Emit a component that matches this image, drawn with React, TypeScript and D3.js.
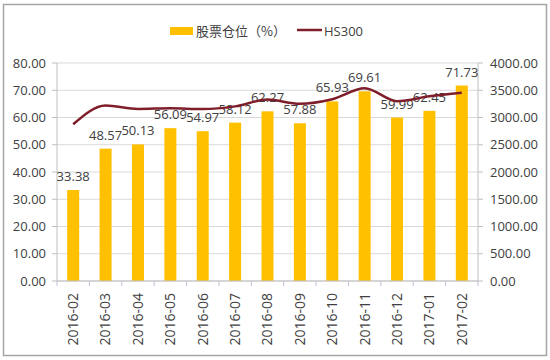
import React from "react";
import * as d3 from "d3";

const categories = ["2016-02","2016-03","2016-04","2016-05","2016-06","2016-07","2016-08","2016-09","2016-10","2016-11","2016-12","2017-01","2017-02"];
const positionValues = [33.38,48.57,50.13,56.09,54.97,58.12,62.27,57.88,65.93,69.61,59.99,62.45,71.73];
const hs300Values = [2877,3218,3157,3170,3154,3204,3328,3253,3336,3538,3300,3388,3453];
const leftTicks = [0,10,20,30,40,50,60,70,80];
const rightTicks = [0,500,1000,1500,2000,2500,3000,3500,4000];
const seriesNames = ["股票仓位（%）", "HS300"];

const W = 550, H = 360;
const plot = { left: 57, right: 478, top: 63, bottom: 281 };
const FONT = "'Open Sans', 'Noto Sans', sans-serif";
const CJK = "'Noto Sans CJK SC', sans-serif";
const BAR = "#FFC000";
const LINE = "#7E1E2A";
const TEXT = "#404040";

export default function App() {
  const x = d3.scaleBand<string>().domain(categories).range([plot.left, plot.right]).padding(0);
  const yL = d3.scaleLinear().domain([0, 80]).range([plot.bottom, plot.top]);
  const yR = d3.scaleLinear().domain([0, 4000]).range([plot.bottom, plot.top]);
  const bw = 12;
  const line = d3.line<number>()
    .x((_, i) => (x(categories[i]) as number) + x.bandwidth() / 2)
    .y((d) => yR(d))
    .curve(d3.curveMonotoneX);

  const boundaries = categories.map((c) => x(c) as number).concat([plot.right]);

  return (
    <svg width={W} height={H} style={{ position: "absolute", left: 0, top: 0, background: "#fff" }}>
      <rect x={3.5} y={4.5} width={543} height={351} fill="#fff" stroke="#a6a6a6" strokeWidth={1.5} />
      {/* gridlines */}
      {leftTicks.map((t) => (
        <line key={"g" + t} x1={plot.left} x2={plot.right} y1={yL(t)} y2={yL(t)} stroke="#d9d9d9" strokeWidth={1} />
      ))}
      {/* left axis */}
      <line x1={plot.left} x2={plot.left} y1={plot.top} y2={plot.bottom} stroke="#bfbfbf" />
      {leftTicks.map((t) => (
        <g key={"l" + t}>
          <line x1={plot.left - 5} x2={plot.left} y1={yL(t)} y2={yL(t)} stroke="#bfbfbf" />
          <text x={plot.left - 11} y={yL(t)} dy="0.35em" textAnchor="end" fontSize={13} fontFamily={FONT} fill={TEXT}>
            {d3.format(".2f")(t)}
          </text>
        </g>
      ))}
      {/* right axis */}
      <line x1={plot.right} x2={plot.right} y1={plot.top} y2={plot.bottom} stroke="#bfbfbf" />
      {rightTicks.map((t) => (
        <g key={"r" + t}>
          <line x1={plot.right} x2={plot.right + 5} y1={yR(t)} y2={yR(t)} stroke="#bfbfbf" />
          <text x={plot.right + 12} y={yR(t)} dy="0.35em" textAnchor="start" fontSize={13} fontFamily={FONT} fill={TEXT}>
            {d3.format(".2f")(t)}
          </text>
        </g>
      ))}
      {/* bars */}
      {positionValues.map((v, i) => {
        const cx = (x(categories[i]) as number) + x.bandwidth() / 2;
        return <rect key={"b" + i} x={cx - bw / 2} y={yL(v)} width={bw} height={plot.bottom - yL(v)} fill={BAR} />;
      })}
      {/* x axis */}
      <line x1={plot.left} x2={plot.right} y1={plot.bottom} y2={plot.bottom} stroke="#bfbfbf" />
      {boundaries.map((b, i) => (
        <line key={"t" + i} x1={b} x2={b} y1={plot.bottom} y2={plot.bottom + 5} stroke="#c8bcd8" />
      ))}
      {categories.map((c) => {
        const cx = (x(c) as number) + x.bandwidth() / 2;
        return (
          <text key={"c" + c} transform={`translate(${cx},${plot.bottom + 12}) rotate(-90)`} dy="0.35em" textAnchor="end"
            fontSize={14} fontFamily={FONT} fill={TEXT}>
            {c}
          </text>
        );
      })}
      {/* data labels */}
      {positionValues.map((v, i) => {
        const cx = (x(categories[i]) as number) + x.bandwidth() / 2;
        return (
          <text key={"d" + i} x={cx} y={yL(v) - 9} textAnchor="middle" fontSize={13} fontFamily={FONT} fill={TEXT}>
            {d3.format(".2f")(v)}
          </text>
        );
      })}
      {/* line */}
      <path d={line(hs300Values) || ""} fill="none" stroke={LINE} strokeWidth={2.5} strokeLinejoin="round" />
      {/* legend */}
      <rect x={170} y={27} width={23} height={8} fill={BAR} />
      <text x={196} y={31} dy="0.35em" fontSize={13} fontFamily={CJK} fill={TEXT}>{seriesNames[0]}</text>
      <line x1={297} x2={322} y1={30} y2={30} stroke={LINE} strokeWidth={2.5} />
      <text x={324} y={31} dy="0.35em" fontSize={13} fontFamily={FONT} fill={TEXT}>{seriesNames[1]}</text>
    </svg>
  );
}
